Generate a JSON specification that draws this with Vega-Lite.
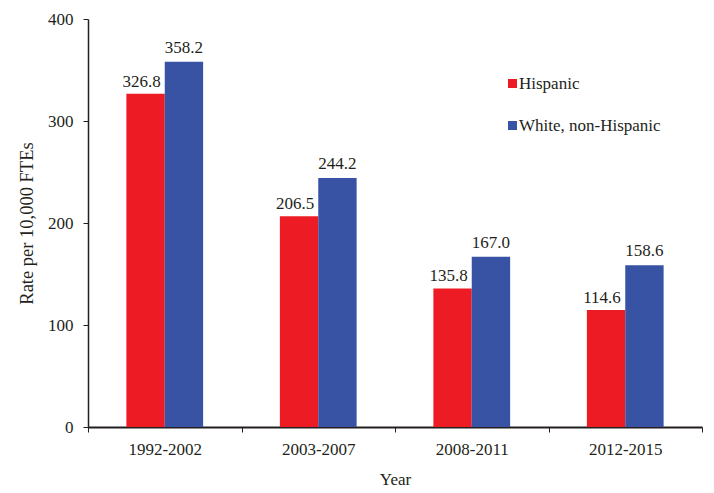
{
  "$schema": "https://vega.github.io/schema/vega-lite/v6.json",
  "width": 614,
  "height": 408,
  "autosize": "none",
  "padding": {"left": 88, "top": 19, "right": 12, "bottom": 66},
  "background": "white",
  "config": {
    "view": {"stroke": null},
    "font": "Liberation Serif",
    "text": {"font": "Liberation Serif"},
    "legend": {"labelFont": "Liberation Serif", "titleFont": "Liberation Serif"},
    "axis": {"labelFont": "Liberation Serif", "titleFont": "Liberation Serif", "labelColor": "#231f20", "titleColor": "#231f20", "titleFontWeight": "normal", "labelFontSize": 17, "titleFontSize": 17, "domainColor": "#231f20", "tickColor": "#231f20"}
  },
  "data": {
    "values": [
      {"period": "1992-2002", "group": "Hispanic", "rate": 326.8},
      {"period": "1992-2002", "group": "White, non-Hispanic", "rate": 358.2},
      {"period": "2003-2007", "group": "Hispanic", "rate": 206.5},
      {"period": "2003-2007", "group": "White, non-Hispanic", "rate": 244.2},
      {"period": "2008-2011", "group": "Hispanic", "rate": 135.8},
      {"period": "2008-2011", "group": "White, non-Hispanic", "rate": 167.0},
      {"period": "2012-2015", "group": "Hispanic", "rate": 114.6},
      {"period": "2012-2015", "group": "White, non-Hispanic", "rate": 158.6}
    ]
  },
  "encoding": {
    "x": {
      "field": "period", "type": "nominal", "sort": null,
      "scale": {"paddingInner": 0, "paddingOuter": 0},
      "axis": {"title": "Year", "labelAngle": 0, "tickBand": "extent", "tickSize": 5, "labelPadding": 9, "domainWidth": 2, "tickWidth": 1, "titlePadding": 14, "grid": false}
    },
    "xOffset": {"field": "group", "type": "nominal", "sort": ["Hispanic", "White, non-Hispanic"], "scale": {"paddingInner": 0, "paddingOuter": 1.1}},
    "y": {
      "field": "rate", "type": "quantitative",
      "scale": {"domain": [0, 400], "nice": false},
      "axis": {"title": "Rate per 10,000 FTEs", "titleFontSize": 18.5, "values": [0, 100, 200, 300, 400], "tickSize": 5, "labelPadding": 10, "domainWidth": 1.5, "grid": false, "titlePadding": 11}
    }
  },
  "layer": [
    {
      "mark": {"type": "bar"},
      "encoding": {
        "color": {
          "field": "group", "type": "nominal",
          "scale": {"domain": ["Hispanic", "White, non-Hispanic"], "range": ["#ed1c24", "#3953a4"]},
          "legend": {
            "title": null, "orient": "none", "legendX": 416, "legendY": 56,
            "symbolType": "square", "symbolSize": 81, "symbolStrokeWidth": 0,
            "labelFont": "Liberation Serif", "labelFontSize": 17, "labelColor": "#231f20",
            "rowPadding": 24, "labelOffset": -2, "padding": 0
          }
        }
      }
    },
    {
      "transform": [{"filter": "datum.group === 'Hispanic'"}],
      "mark": {"type": "text", "baseline": "alphabetic", "dy": -7, "dx": -4, "fontSize": 17, "font": "Liberation Serif", "color": "#231f20"},
      "encoding": {"text": {"field": "rate", "type": "quantitative", "format": ".1f"}}
    },
    {
      "transform": [{"filter": "datum.group !== 'Hispanic'"}],
      "mark": {"type": "text", "baseline": "alphabetic", "dy": -9, "fontSize": 17, "font": "Liberation Serif", "color": "#231f20"},
      "encoding": {"text": {"field": "rate", "type": "quantitative", "format": ".1f"}}
    }
  ]
}
